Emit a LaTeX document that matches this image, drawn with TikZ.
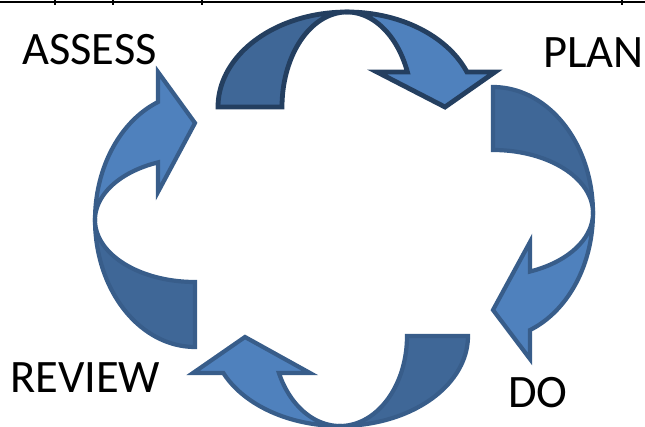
\documentclass[tikz,border=0pt]{standalone}
\usepackage{fontspec}
\setmainfont{Carlito}
\definecolor{lightblue}{HTML}{4F81BD}
\definecolor{darkblue}{HTML}{3F6797}
\definecolor{edgeblue}{HTML}{385D8A}
\definecolor{edgenavy}{HTML}{243F60}
\begin{document}
\begin{tikzpicture}[x=1pt,y=-1pt,
  front/.style={fill=lightblue,draw=edgeblue,line width=4.2pt,line join=miter},
  back/.style={fill=darkblue,draw=edgeblue,line width=4.2pt,line join=miter},
  label/.style={anchor=base west,inner sep=0pt,font=\fontsize{46.5}{50}\selectfont}]
\useasboundingbox (0,0) rectangle (645,427);
% top border line with small ticks
\draw[line width=2.5pt] (0,2) -- (645,2);
\foreach \tx in {55,113,202,622} \draw[line width=1.2pt] (\tx,0) -- (\tx,5);
% top arrow (curved down)
\path[back,draw=edgenavy,line width=4.8pt] plot[domain=180:270,samples=40,variable=\t] ({347+129*cos(\t)},{107+95*sin(\t)})
  -- plot[domain=270:180,samples=40,variable=\t] ({347+65*cos(\t)},{107+95*sin(\t)}) -- cycle;
\path[front,draw=edgenavy,line width=4.8pt] plot[domain=270:338.4,samples=40,variable=\t] ({347+129*cos(\t)},{107+95*sin(\t)})
  -- (495,72) -- (445,107) -- (377,72)
  -- plot[domain=338.4:270,samples=40,variable=\t] ({347+65*cos(\t)},{107+95*sin(\t)}) -- cycle;
% right arrow (curved left)
\path[back] plot[domain=-90:0,samples=40,variable=\t] ({493+100*cos(\t)},{213+126*sin(\t)})
  -- plot[domain=0:-90,samples=40,variable=\t] ({493+100*cos(\t)},{213+63*sin(\t)}) -- cycle;
\path[front] plot[domain=0:68.3,samples=40,variable=\t] ({493+100*cos(\t)},{213+126*sin(\t)})
  -- (530,359) -- (493,310) -- (530,242)
  -- plot[domain=68.3:0,samples=40,variable=\t] ({493+100*cos(\t)},{213+63*sin(\t)}) -- cycle;
% left arrow (curved right)
\path[back] plot[domain=90:180,samples=40,variable=\t] ({195+100*cos(\t)},{220+127*sin(\t)})
  -- plot[domain=180:90,samples=40,variable=\t] ({195+100*cos(\t)},{220+62*sin(\t)}) -- cycle;
\path[front] plot[domain=180:248.3,samples=40,variable=\t] ({195+100*cos(\t)},{220+127*sin(\t)})
  -- (158,72) -- (195,123) -- (158,192)
  -- plot[domain=248.3:180,samples=40,variable=\t] ({195+100*cos(\t)},{220+62*sin(\t)}) -- cycle;
% bottom arrow (curved up)
\path[back] plot[domain=0:90,samples=40,variable=\t] ({340+128*cos(\t)},{336+90*sin(\t)})
  -- plot[domain=90:0,samples=40,variable=\t] ({340+67*cos(\t)},{336+90*sin(\t)}) -- cycle;
\path[front] plot[domain=90:155.7,samples=40,variable=\t] ({340+128*cos(\t)},{336+90*sin(\t)})
  -- (193,373) -- (245,337) -- (310,373)
  -- plot[domain=155.7:90,samples=40,variable=\t] ({340+67*cos(\t)},{336+90*sin(\t)}) -- cycle;
% labels
\node[label] (assess) at (22,65) {ASSESS};
\node[label] (plan) at (543,68) {PLAN};
\node[label] (review) at (10,392) {REVIEW};
\node[label] (do) at (508,407) {DO};
\end{tikzpicture}
\end{document}
